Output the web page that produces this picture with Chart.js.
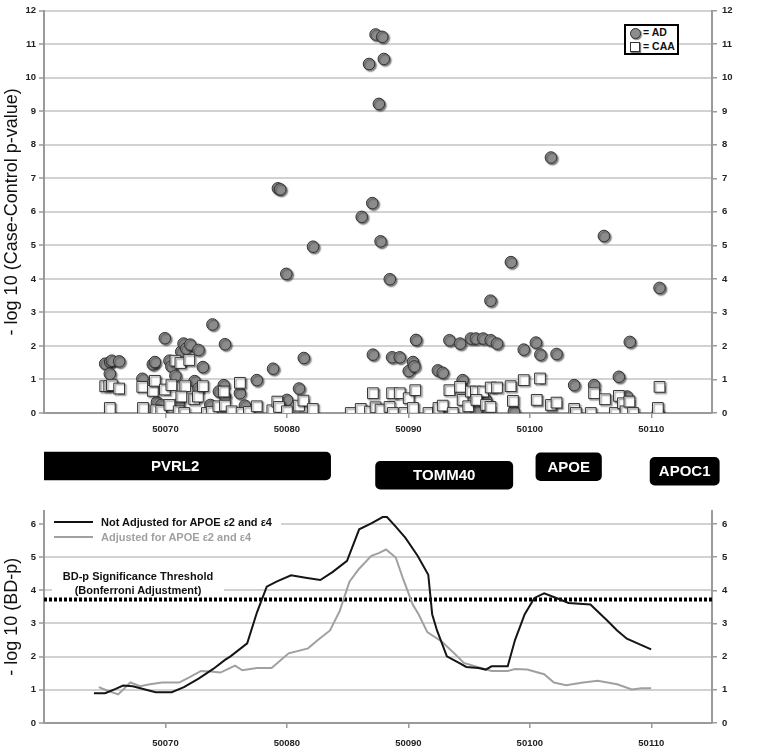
<!DOCTYPE html>
<html>
<head>
<meta charset="utf-8">
<script src="https://cdn.jsdelivr.net/npm/chart.js@4/dist/chart.umd.min.js"></script>
<style>
  html, body { margin: 0; padding: 0; background: #fff; }
  #wrap { position: relative; width: 764px; height: 748px; overflow: hidden; font-family: "Liberation Sans", Arial, sans-serif; }
  canvas { position: absolute; left: 0; }
  #top { top: 0; }
  #genes { top: 440px; }
  #bottom { top: 500px; }
  .key { position: absolute; left: 624px; top: 24px; width: 51px; height: 27px; border: 2px solid #000; background: #fff;
         font: bold 10.5px "Liberation Sans", Arial, sans-serif; color: #111; white-space: nowrap; }
  .key div { position: absolute; left: 17px; line-height: 13px; }
  .key .dot { position: absolute; left: 4px; top: 2px; width: 9px; height: 9px; border-radius: 50%; background: #8c8c8c;
              border: 1px solid #333; box-shadow: 1px 1px 1px rgba(0,0,0,.5); }
  .key .box { position: absolute; left: 4px; top: 16px; width: 8px; height: 8px; background: #fff;
              border: 1px solid #333; box-shadow: 1px 1px 1px rgba(0,0,0,.5); }
  .lineKey { position: absolute; left: 45px; top: 512px; width: 236px; height: 33px; background: #fff;
             font: bold 11px "Liberation Sans", Arial, sans-serif; white-space: nowrap; }
  .lineKey .row { position: absolute; left: 56px; line-height: 14px; }
  .lineKey .seg { position: absolute; left: 9px; width: 39px; height: 2px; }
  .thresh { position: absolute; left: 52px; top: 569px; width: 172px; height: 27px; background: #fff; text-align: center;
            font: bold 11px "Liberation Sans", Arial, sans-serif; line-height: 14px; color: #111; white-space: nowrap; }
</style>
</head>
<body>
<div id="wrap">
  <canvas id="top" width="764" height="440"></canvas>
  <canvas id="genes" width="764" height="60"></canvas>
  <canvas id="bottom" width="764" height="248"></canvas>

  <div class="key">
    <span class="dot"></span><div style="top:0">= AD</div>
    <span class="box"></span><div style="top:14px">= CAA</div>
  </div>

  <div class="lineKey">
    <span class="seg" style="top:9px;background:#111"></span>
    <div class="row" style="top:3px;color:#111">Not Adjusted for APOE ε2 and ε4</div>
    <span class="seg" style="top:24px;background:#a0a0a0"></span>
    <div class="row" style="top:18px;color:#a0a0a0">Adjusted for APOE ε2 and ε4</div>
  </div>

  <div class="thresh">BD-p Significance Threshold<br>(Bonferroni Adjustment)</div>
</div>

<script>
// ---------------------------------------------------------------
// Data
// ---------------------------------------------------------------

// position (kb) and -log10 case-control p for AD
const AD_POS = [
  50065.04, 50065.45, 50065.59, 50066.19, 50065.42, 50068.10, 50068.96, 50069.13, 50069.95, 50070.33,
  50070.49, 50070.82, 50071.30, 50071.49, 50071.71, 50072.04, 50072.72, 50073.08, 50072.40, 50072.72,
  50073.87, 50074.90, 50074.80, 50074.40, 50074.90, 50073.70, 50076.13, 50076.54, 50077.52, 50078.86,
  50079.26, 50079.45, 50079.95, 50080.00, 50081.00, 50081.39, 50082.15, 50069.30, 50069.67, 50071.09,
  50086.16, 50086.76, 50087.03, 50087.08, 50087.30, 50087.85, 50087.98, 50087.57, 50087.71, 50088.47,
  50088.66, 50089.29, 50090.03, 50090.38, 50090.49, 50090.63, 50092.43, 50092.83, 50093.38, 50094.26,
  50094.47, 50095.15, 50095.56, 50096.16, 50096.78, 50097.30, 50096.76, 50095.60, 50096.40, 50098.44,
  50098.69, 50099.50, 50100.50, 50100.87, 50102.20, 50101.74, 50103.65, 50105.29, 50106.10, 50107.33,
  50108.01, 50108.23, 50110.68, 50110.54
];
const AD_P = [
  1.47, 1.52, 1.56, 1.54, 1.17, 1.02, 1.45, 1.52, 2.23, 1.56,
  1.39, 1.11, 1.83, 2.07, 1.92, 2.04, 1.88, 1.37, 0.95, 0.73,
  2.64, 2.05, 0.83, 0.64, 0.49, 0.24, 0.59, 0.22, 0.98, 1.32,
  6.70, 6.67, 4.15, 0.39, 0.73, 1.64, 4.96, 0.32, 0.24, 0.27,
  5.85, 10.41, 6.26, 1.74, 11.29, 11.22, 10.56, 9.22, 5.12, 3.99,
  1.66, 1.66, 1.25, 1.52, 1.39, 2.18, 1.27, 1.20, 2.17, 2.07,
  0.98, 2.22, 2.22, 2.22, 2.17, 2.07, 3.35, 0.05, 0.39, 4.50,
  0.05, 1.89, 2.10, 1.74, 1.76, 7.62, 0.83, 0.83, 5.28, 1.08,
  0.49, 2.12, 3.73, 0.02
];

// position (kb) and -log10 case-control p for CAA
const CAA_POS = [
  50065.04, 50065.37, 50065.59, 50066.19, 50065.42, 50068.09, 50068.15, 50068.96, 50069.13, 50069.24,
  50069.65, 50069.95, 50070.33, 50070.49, 50070.82, 50071.23, 50071.63, 50071.96, 50071.31, 50071.09,
  50071.55, 50072.37, 50072.67, 50073.08, 50073.41, 50073.81, 50074.36, 50074.80, 50074.90, 50075.45,
  50076.13, 50076.27, 50076.87, 50077.52, 50078.80, 50079.21, 50079.35, 50080.00, 50081.00, 50081.36,
  50082.13, 50085.26, 50086.08, 50086.84, 50087.08, 50087.30, 50087.71, 50088.45, 50088.72, 50088.66,
  50089.29, 50089.67, 50090.03, 50090.38, 50090.57, 50091.66, 50092.43, 50092.48, 50092.83, 50093.65,
  50093.38, 50094.26, 50094.47, 50094.93, 50095.15, 50095.56, 50096.16, 50095.60, 50096.40, 50096.76,
  50096.78, 50097.30, 50098.42, 50098.61, 50099.50, 50100.84, 50100.57, 50101.74, 50102.20, 50103.65,
  50103.79, 50105.02, 50105.29, 50106.19, 50107.00, 50107.33, 50107.66, 50107.88, 50108.20, 50108.50,
  50110.68, 50110.54
];
const CAA_P = [
  0.80, 0.80, 0.83, 0.73, 0.15, 0.78, 0.15, 0.66, 0.96, 0.08,
  0.06, 0.70, 0.24, 0.83, 1.56, 1.49, 0.80, 1.58, 0.49, 0.05,
  0.00, 0.41, 0.49, 0.80, 0.00, 0.03, 0.20, 0.64, 0.22, 0.05,
  0.90, 0.00, 0.03, 0.20, 0.08, 0.34, 0.18, 0.05, 0.22, 0.37,
  0.12, 0.00, 0.12, 0.04, 0.59, 0.17, 0.10, 0.18, 0.00, 0.59,
  0.59, 0.00, 0.44, 0.15, 0.68, 0.00, 0.02, 0.15, 0.22, 0.00,
  0.68, 0.78, 0.39, 0.20, 0.64, 0.64, 0.64, 0.39, 0.24, 0.18,
  0.76, 0.76, 0.80, 0.36, 0.98, 1.03, 0.39, 0.24, 0.31, 0.12,
  0.00, 0.00, 0.59, 0.41, 0.00, 0.51, 0.29, 0.05, 0.34, 0.00,
  0.78, 0.15
];

// genes (kb)
const GENE_NAMES = ['PVRL2', 'TOMM40', 'APOE', 'APOC1'];
const GENE_START = [50058.0, 50087.3, 50100.5, 50109.9];
const GENE_END = [50083.6, 50098.6, 50105.9, 50115.6];

// BD-p curves
const NOT_ADJ_POS = [
  50064.11, 50065.03, 50065.90, 50066.51, 50067.31, 50068.32, 50069.20, 50070.52, 50071.52, 50072.73,
  50073.93, 50074.93, 50075.33, 50076.73, 50077.53, 50078.34, 50079.14, 50080.34, 50081.54, 50082.75,
  50083.75, 50084.95, 50085.95, 50086.95, 50087.88, 50088.24, 50088.96, 50089.76, 50090.76, 50091.64,
  50091.96, 50092.36, 50093.17, 50094.17, 50094.77, 50095.77, 50096.37, 50096.85, 50098.18, 50098.78,
  50099.58, 50100.38, 50101.18, 50102.18, 50103.19, 50104.99, 50106.39, 50107.19, 50107.99, 50109.99
];
const NOT_ADJ_P = [
  0.90, 0.90, 1.03, 1.13, 1.11, 1.01, 0.93, 0.93, 1.08, 1.34,
  1.63, 1.91, 2.00, 2.40, 3.33, 4.11, 4.26, 4.45, 4.38, 4.31,
  4.55, 4.89, 5.84, 6.02, 6.21, 6.21, 5.92, 5.58, 5.04, 4.47,
  3.28, 2.79, 2.01, 1.81, 1.69, 1.66, 1.61, 1.71, 1.71, 2.50,
  3.28, 3.77, 3.91, 3.77, 3.62, 3.57, 3.08, 2.79, 2.54, 2.22
];
const ADJ_POS = [
  50064.51, 50065.19, 50066.11, 50067.11, 50067.92, 50068.72, 50069.72, 50071.12, 50071.92, 50072.93,
  50073.73, 50074.53, 50075.73, 50076.33, 50077.53, 50078.74, 50080.14, 50081.74, 50082.55, 50083.55,
  50084.35, 50085.15, 50085.95, 50086.95, 50087.56, 50088.16, 50088.96, 50089.56, 50090.36, 50090.84,
  50091.56, 50092.77, 50093.77, 50094.57, 50095.97, 50096.85, 50098.18, 50098.78, 50099.78, 50101.18,
  50101.98, 50102.99, 50104.39, 50105.59, 50107.19, 50108.40, 50109.20, 50109.99
];
const ADJ_P = [
  1.08, 0.98, 0.86, 1.22, 1.11, 1.17, 1.22, 1.22, 1.37, 1.57,
  1.55, 1.52, 1.73, 1.59, 1.66, 1.66, 2.10, 2.25, 2.50, 2.79,
  3.38, 4.26, 4.65, 5.04, 5.12, 5.23, 4.99, 4.35, 3.57, 3.28,
  2.74, 2.45, 2.10, 1.81, 1.66, 1.57, 1.57, 1.63, 1.61, 1.47,
  1.22, 1.14, 1.22, 1.27, 1.17, 1.01, 1.05, 1.05
];
const THRESHOLD = 3.72;

const X_TICKS = [50070, 50080, 50090, 50100, 50110];
const TOP_Y_TICKS = [0, 1, 2, 3, 4, 5, 6, 7, 8, 9, 10, 11, 12];
const BOTTOM_Y_TICKS = [0, 1, 2, 3, 4, 5, 6];

// ---------------------------------------------------------------
// Layout / style
// ---------------------------------------------------------------

const X_MIN = 50060;
const X_MAX = 50115;
const LEFT_W = 44;
const RIGHT_W = 52;
const GENE_TRACK_Y = { PVRL2: 22, TOMM40: 40.5, APOE: 23.5, APOC1: 32.5 };

const FONT = '"Liberation Sans", Arial, sans-serif';
const TICK_FONT = { family: FONT, size: 9.5, weight: 'bold' };
const GRID = '#d2d2d2';
const AXIS = '#9a9a9a';

Chart.defaults.font.family = FONT;

const toPoints = (xs, ys) => xs.map((x, i) => ({ x, y: ys[i] }));
const fixTicks = (list) => (scale) => { scale.ticks = list.map((value) => ({ value })); };

const xScale = (height, pad) => ({
  type: 'linear',
  min: X_MIN,
  max: X_MAX,
  afterBuildTicks: fixTicks(X_TICKS),
  afterFit: (s) => { s.height = height; },
  grid: { drawOnChartArea: false, tickLength: 5, color: AXIS, lineWidth: 1.5 },
  border: { color: AXIS, width: 2 },
  ticks: { font: TICK_FONT, color: '#222', padding: pad, maxRotation: 0, callback: (v) => String(v) },
});

const leftScale = (max, list, title) => ({
  min: 0,
  max,
  afterBuildTicks: fixTicks(list),
  afterFit: (s) => { s.width = LEFT_W; },
  grid: { color: GRID, lineWidth: 2, tickLength: 5, tickColor: AXIS, tickWidth: 1.5 },
  border: { color: AXIS, width: 2 },
  ticks: { font: TICK_FONT, color: '#222', padding: 3 },
  title: { display: true, text: title, font: { family: FONT, size: 18 }, color: '#111', padding: { top: 1, bottom: 0 } },
});

const rightScale = (max, list) => ({
  position: 'right',
  min: 0,
  max,
  afterBuildTicks: fixTicks(list),
  afterFit: (s) => { s.width = RIGHT_W; },
  grid: { drawOnChartArea: false, tickLength: 5, color: AXIS, lineWidth: 1.5 },
  border: { color: AXIS, width: 2 },
  ticks: { font: TICK_FONT, color: '#222', padding: 5 },
});

const BASE = {
  responsive: false,
  animation: false,
  events: [],
  plugins: { legend: { display: false }, tooltip: { enabled: false } },
};

// soft drop shadow under the markers
const markerShadow = {
  id: 'markerShadow',
  beforeDatasetsDraw(chart) {
    const ctx = chart.ctx;
    ctx.save();
    ctx.shadowColor = 'rgba(0,0,0,0.5)';
    ctx.shadowOffsetX = 1.5;
    ctx.shadowOffsetY = 1.5;
    ctx.shadowBlur = 1.5;
  },
  afterDatasetsDraw(chart) {
    chart.ctx.restore();
  },
};

// gene names written inside their bars
const geneLabels = {
  id: 'geneLabels',
  afterDatasetsDraw(chart) {
    const ctx = chart.ctx;
    ctx.save();
    ctx.fillStyle = '#fff';
    ctx.font = `bold 15px ${FONT}`;
    ctx.textAlign = 'center';
    ctx.textBaseline = 'middle';
    chart.getDatasetMeta(0).data.forEach((bar, i) => {
      const { x, base, y } = bar.getProps(['x', 'base', 'y'], true);
      ctx.fillText(GENE_NAMES[i], (x + base) / 2, y + 1);
    });
    ctx.restore();
  },
};

// ---------------------------------------------------------------
// Case-control scatter
// ---------------------------------------------------------------

new Chart(document.getElementById('top'), {
  type: 'scatter',
  data: {
    datasets: [
      {
        label: 'AD',
        data: toPoints(AD_POS, AD_P),
        pointStyle: 'circle',
        pointRadius: 5.8,
        backgroundColor: '#8c8c8c',
        borderColor: '#333',
        borderWidth: 1,
        order: 2,
      },
      {
        label: 'CAA',
        data: toPoints(CAA_POS, CAA_P),
        pointStyle: 'rect',
        pointRadius: 7.6,
        backgroundColor: '#fff',
        borderColor: '#333',
        borderWidth: 1,
        order: 1,
      },
    ],
  },
  options: {
    ...BASE,
    layout: { padding: { top: 4, left: 0, right: 0, bottom: 0 }, autoPadding: false },
    scales: {
      x: xScale(27, 6),
      y: leftScale(12, TOP_Y_TICKS, '- log 10 (Case-Control p-value)'),
      y2: rightScale(12, TOP_Y_TICKS),
    },
  },
  plugins: [markerShadow],
});

// ---------------------------------------------------------------
// Gene track
// ---------------------------------------------------------------

new Chart(document.getElementById('genes'), {
  type: 'bar',
  data: {
    datasets: [{
      data: GENE_NAMES.map((g, i) => ({ x: [GENE_START[i], GENE_END[i]], y: GENE_TRACK_Y[g] })),
      backgroundColor: '#000',
      borderRadius: 5,
      borderSkipped: false,
      barThickness: 28,
      clip: { left: 0, right: false, top: false, bottom: false },
    }],
  },
  options: {
    ...BASE,
    indexAxis: 'y',
    layout: { padding: { left: LEFT_W, right: RIGHT_W, top: 0, bottom: 0 }, autoPadding: false },
    scales: {
      x: { type: 'linear', min: X_MIN, max: X_MAX, display: false },
      y: { type: 'linear', min: 0, max: 60, reverse: true, display: false },
    },
  },
  plugins: [geneLabels],
});

// ---------------------------------------------------------------
// BD-p curves
// ---------------------------------------------------------------

new Chart(document.getElementById('bottom'), {
  type: 'line',
  data: {
    datasets: [
      {
        label: 'Not Adjusted for APOE ε2 and ε4',
        data: toPoints(NOT_ADJ_POS, NOT_ADJ_P),
        borderColor: '#151515',
        borderWidth: 2,
        pointRadius: 0,
        tension: 0,
      },
      {
        label: 'Adjusted for APOE ε2 and ε4',
        data: toPoints(ADJ_POS, ADJ_P),
        borderColor: '#a0a0a0',
        borderWidth: 2,
        pointRadius: 0,
        tension: 0,
      },
      {
        label: 'BD-p Significance Threshold',
        data: [{ x: X_MIN, y: THRESHOLD }, { x: X_MAX, y: THRESHOLD }],
        borderColor: '#000',
        borderWidth: 4,
        borderDash: [3, 2],
        pointRadius: 0,
      },
    ],
  },
  options: {
    ...BASE,
    layout: { padding: { top: 10, left: 0, right: 0, bottom: 0 }, autoPadding: false },
    scales: {
      x: xScale(25, 10),
      y: leftScale(6.4, BOTTOM_Y_TICKS, '- log 10 (BD-p)'),
      y2: rightScale(6.4, BOTTOM_Y_TICKS),
    },
  },
});
</script>
</body>
</html>
